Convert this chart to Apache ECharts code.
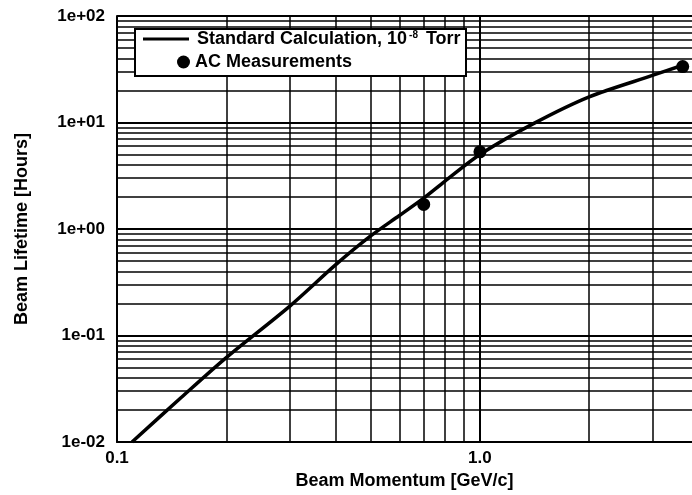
<!DOCTYPE html>
<html>
<head>
<meta charset="utf-8">
<script src="https://cdn.jsdelivr.net/npm/echarts@6/dist/echarts.min.js"></script>
<style>html,body{margin:0;padding:0;background:#fff}#c{width:692px;height:495px}</style>
</head>
<body>
<div id="c"></div>
<script>
// Standard calculation curve (momentum GeV/c, lifetime hours)
var calcMomentum = [0.11, 0.15, 0.2, 0.3, 0.4, 0.5, 0.6, 0.7, 0.8, 1.0, 1.4, 2.0, 3.0, 3.62];
var calcLifetime = [0.010, 0.026, 0.062, 0.19, 0.46, 0.86, 1.34, 1.95, 2.8, 5.0, 9.7, 17.4, 27.8, 34.5];
// AC measurements
var measMomentum = [0.7, 1.0, 3.62];
var measLifetime = [1.7, 5.3, 33.5];
// grid line positions
var xMajorGrid = [1.0];
var xMinorGrid = [0.2, 0.3, 0.4, 0.5, 0.6, 0.7, 0.8, 0.9, 2, 3];
var yMinorGrid = [];
[0.01, 0.1, 1, 10].forEach(function (d) { for (var k = 2; k <= 9; k++) yMinorGrid.push(+(d * k).toPrecision(3)); });
// axis extent
var xMin = 0.1, xMax = 3.84, yMin = 0.01, yMax = 100;

var calcName = 'Standard Calculation, 10-8 Torr';
var measName = 'AC Measurements';

function expFmt(v) {
  var e = Math.round(Math.log10(v));
  var s = e < 0 ? '-' : '+';
  var a = Math.abs(e);
  return '1e' + s + (a < 10 ? '0' + a : a);
}

var FONT = 'Liberation Sans';
var chart = echarts.init(document.getElementById('c'), null, { renderer: 'canvas' });
var minorStyle = { color: '#000', width: 1.5, type: 'solid' };
var majorStyle = { color: '#000', width: 2, type: 'solid' };
var option = {
  animation: false,
  backgroundColor: '#fff',
  grid: { left: 117, top: 16, bottom: 53, right: 0, containLabel: false },
  xAxis: {
    type: 'log', logBase: 10, min: xMin, max: xMax,
    name: 'Beam Momentum [GeV/c]', nameLocation: 'middle', nameGap: 30,
    nameTextStyle: { fontFamily: FONT, fontWeight: 'bold', fontSize: 18, color: '#000' },
    axisLine: { show: true, lineStyle: { color: '#000', width: 2 } },
    axisTick: { show: false },
    axisLabel: { margin: 8, fontFamily: FONT, fontWeight: 'bold', fontSize: 17, color: '#000', showMaxLabel: false,
      formatter: function (v) { return v.toFixed(1); } },
    splitLine: { show: false }
  },
  yAxis: {
    type: 'log', logBase: 10, min: yMin, max: yMax,
    name: 'Beam Lifetime [Hours]', nameLocation: 'middle', nameGap: 86,
    nameTextStyle: { fontFamily: FONT, fontWeight: 'bold', fontSize: 18, color: '#000' },
    axisLine: { show: true, lineStyle: { color: '#000', width: 2 } },
    axisTick: { show: false },
    axisLabel: { margin: 12, fontFamily: FONT, fontWeight: 'bold', fontSize: 17, color: '#000', formatter: expFmt },
    splitLine: { show: true, lineStyle: { color: '#000', width: 2 } }
  },
  legend: [
    {
      data: [{ name: calcName, icon: 'rect' }], orient: 'vertical', left: 143, top: 30, padding: 0, z: 10,
      itemWidth: 46, itemHeight: 3,
      formatter: function () { return 'Standard Calculation, 10{sup|-8} Torr'; },
      textStyle: { fontFamily: FONT, fontWeight: 'bold', fontSize: 18, color: '#000', padding: [0, 0, 0, 3],
        rich: { sup: { fontFamily: FONT, fontWeight: 'bold', fontSize: 10, color: '#000', verticalAlign: 'top', padding: [0, 3, 8, 2] } } }
    },
    {
      data: [{ name: measName, icon: 'circle' }], orient: 'vertical', left: 177, top: 53, padding: 0, z: 10,
      itemWidth: 13, itemHeight: 13,
      textStyle: { fontFamily: FONT, fontWeight: 'bold', fontSize: 18, color: '#000' }
    }
  ],
  graphic: [{
    type: 'rect', z: 5, left: 134, top: 28,
    shape: { width: 331, height: 47 },
    style: { fill: '#fff', stroke: '#000', lineWidth: 2 }
  }],
  series: [
    {
      name: calcName, type: 'line', smooth: 0.3, showSymbol: false, symbol: 'none',
      data: calcMomentum.map(function (x, i) { return [x, calcLifetime[i]]; }),
      lineStyle: { color: '#000', width: 3.5 }, itemStyle: { color: '#000' }, z: 3,
      markLine: {
        silent: true, symbol: ['none', 'none'], label: { show: false }, animation: false,
        lineStyle: minorStyle, z: 1,
        data: xMinorGrid.map(function (v) { return { xAxis: v }; })
          .concat(yMinorGrid.map(function (v) { return { yAxis: v }; }))
          .concat(xMajorGrid.map(function (v) { return { xAxis: v, lineStyle: majorStyle }; }))
      }
    },
    {
      name: measName, type: 'scatter', symbol: 'circle', symbolSize: 13,
      data: measMomentum.map(function (x, i) { return [x, measLifetime[i]]; }),
      itemStyle: { color: '#000', opacity: 1 }, z: 4
    }
  ]
};
chart.setOption(option);
</script>
</body>
</html>
